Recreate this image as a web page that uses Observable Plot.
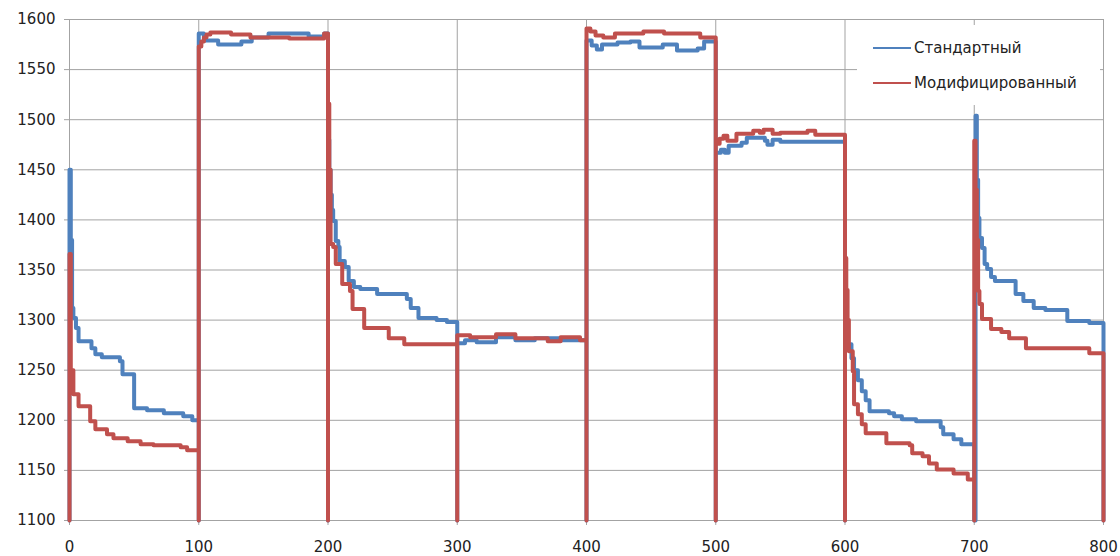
<!DOCTYPE html>
<html>
<head>
<meta charset="utf-8">
<script src="https://cdn.jsdelivr.net/npm/d3@7"></script>
<script src="https://cdn.jsdelivr.net/npm/@observablehq/plot@0.6"></script>
<style>
  html, body { margin: 0; padding: 0; background: #fff; }
  #wrap { position: relative; width: 1120px; height: 556px; }
  #legend { position: absolute; left: 857px; top: 25px; width: 243px; height: 80px; background: #fff;
            font-family: "DejaVu Sans", sans-serif; font-size: 15px; color: #222; }
  .item { position: absolute; left: 16px; height: 20px; display: flex; align-items: center; }
  .swatch { width: 38px; height: 2.5px; margin-right: 3px; }
</style>
</head>
<body>
<div id="wrap">
  <div id="chart"></div>
  <div id="legend"></div>
</div>
<script>
const seriesNames = ["Стандартный", "Модифицированный"];
const seriesColors = ["#4f81bd", "#c0504d"];
const xTicks = [0, 100, 200, 300, 400, 500, 600, 700, 800];
const yTicks = [1100, 1150, 1200, 1250, 1300, 1350, 1400, 1450, 1500, 1550, 1600];

// Стандартный (step breakpoints)
const stdX = [0,0,1,2,3,5,7,17,20,25,39,41,50,60,73,88,95,
  100,100,104,115,133,141,154,185,197,
  200,200,201,202,203,204,206,208,209,213,216,220,225,238,261,264,270,284,292,
  300,300,306,315,330,345,360,380,
  400,400,404,408,412,424,434,441,459,470,486,491,
  500,500,504,507,510,520,524,538,540,544,550,
  600,600,602,605,607,610,613,616,619,634,638,644,655,674,676,684,690,
  700,701,702,703,704,706,708,710,713,716,732,738,746,755,772,789,800];
const stdY = [1100,1450,1380,1312,1302,1292,1279,1272,1266,1263,1259,1246,1212,1210,1207,1204,1200,
  1100,1586,1579,1575,1578,1582,1586,1583,1586,
  1100,1480,1450,1425,1410,1399,1379,1373,1359,1353,1339,1333,1331,1326,1321,1312,1302,1300,1298,
  1100,1277,1280,1278,1283,1280,1282,1280,
  1100,1579,1574,1570,1575,1577,1578,1572,1575,1569,1571,1578,
  1100,1467,1470,1467,1474,1477,1482,1479,1475,1480,1478,
  1100,1300,1276,1262,1250,1240,1229,1220,1209,1207,1204,1201,1199,1193,1186,1181,1176,
  1100,1504,1440,1402,1382,1372,1356,1351,1343,1339,1326,1319,1312,1310,1299,1297,1100];

// Модифицированный (step breakpoints)
const modX = [0,0,1,3,7,16,20,29,34,45,55,65,86,91,
  100,100,102,104,106,109,125,140,170,197,
  200,200,201,202,204,206,211,217,219,228,247,259,
  300,300,310,330,345,370,380,395,
  400,400,403,407,413,422,444,460,488,
  500,500,503,506,509,516,529,534,537,544,550,571,577,
  600,600,601,602,603,606,607,610,613,616,632,650,652,660,665,671,684,695,
  700,700,701,702,703,704,706,713,721,727,740,789,800];
const modY = [1100,1366,1250,1226,1214,1199,1191,1186,1182,1179,1176,1175,1173,1170,
  1100,1573,1578,1582,1585,1587,1585,1582,1581,1586,
  1100,1516,1450,1376,1373,1356,1336,1329,1311,1292,1282,1276,
  1100,1285,1283,1286,1282,1279,1283,1280,
  1100,1591,1588,1584,1582,1586,1588,1586,1582,
  1100,1476,1481,1484,1479,1486,1489,1487,1490,1486,1487,1489,1485,
  1100,1362,1330,1300,1269,1249,1216,1206,1196,1187,1177,1175,1167,1164,1157,1151,1147,1141,
  1100,1479,1430,1380,1329,1316,1301,1291,1288,1282,1272,1267,1100];

const stdData = stdX.map((x, i) => ({x, y: stdY[i]}));
const modData = modX.map((x, i) => ({x, y: modY[i]}));

const grid = "#a3a3a3";
const chart = Plot.plot({
  width: 1120,
  height: 556,
  marginLeft: 69,
  marginRight: 17,
  marginTop: 19,
  marginBottom: 36,
  style: { fontFamily: "DejaVu Sans, sans-serif", fontSize: "15px", color: "#222", background: "#fff" },
  x: { domain: [0, 800] },
  y: { domain: [1100, 1600] },
  marks: [
    Plot.gridX(xTicks, { stroke: grid, strokeOpacity: 1, strokeWidth: 1 }),
    Plot.gridY(yTicks, { stroke: grid, strokeOpacity: 1, strokeWidth: 1 }),
    Plot.axisX({ ticks: xTicks, tickFormat: d3.format("d"), tickSize: 5, tickPadding: 16, stroke: grid, fill: "#222", label: null }),
    Plot.axisY({ ticks: yTicks, tickFormat: d3.format("d"), tickSize: 5, tickPadding: 9, stroke: grid, fill: "#222", label: null }),
    Plot.line(stdData, { x: "x", y: "y", stroke: seriesColors[0], strokeWidth: 4, curve: "step-after", strokeLinejoin: "round" }),
    Plot.line(modData, { x: "x", y: "y", stroke: seriesColors[1], strokeWidth: 4, curve: "step-after", strokeLinejoin: "round" })
  ]
});
document.getElementById("chart").appendChild(chart);

const legend = document.getElementById("legend");
seriesNames.forEach((name, i) => {
  const item = document.createElement("div");
  item.className = "item";
  item.style.top = (i === 0 ? 13 : 48) + "px";
  const sw = document.createElement("span");
  sw.className = "swatch";
  sw.style.background = seriesColors[i];
  const tx = document.createElement("span");
  tx.textContent = name;
  item.appendChild(sw);
  item.appendChild(tx);
  legend.appendChild(item);
});
</script>
</body>
</html>
